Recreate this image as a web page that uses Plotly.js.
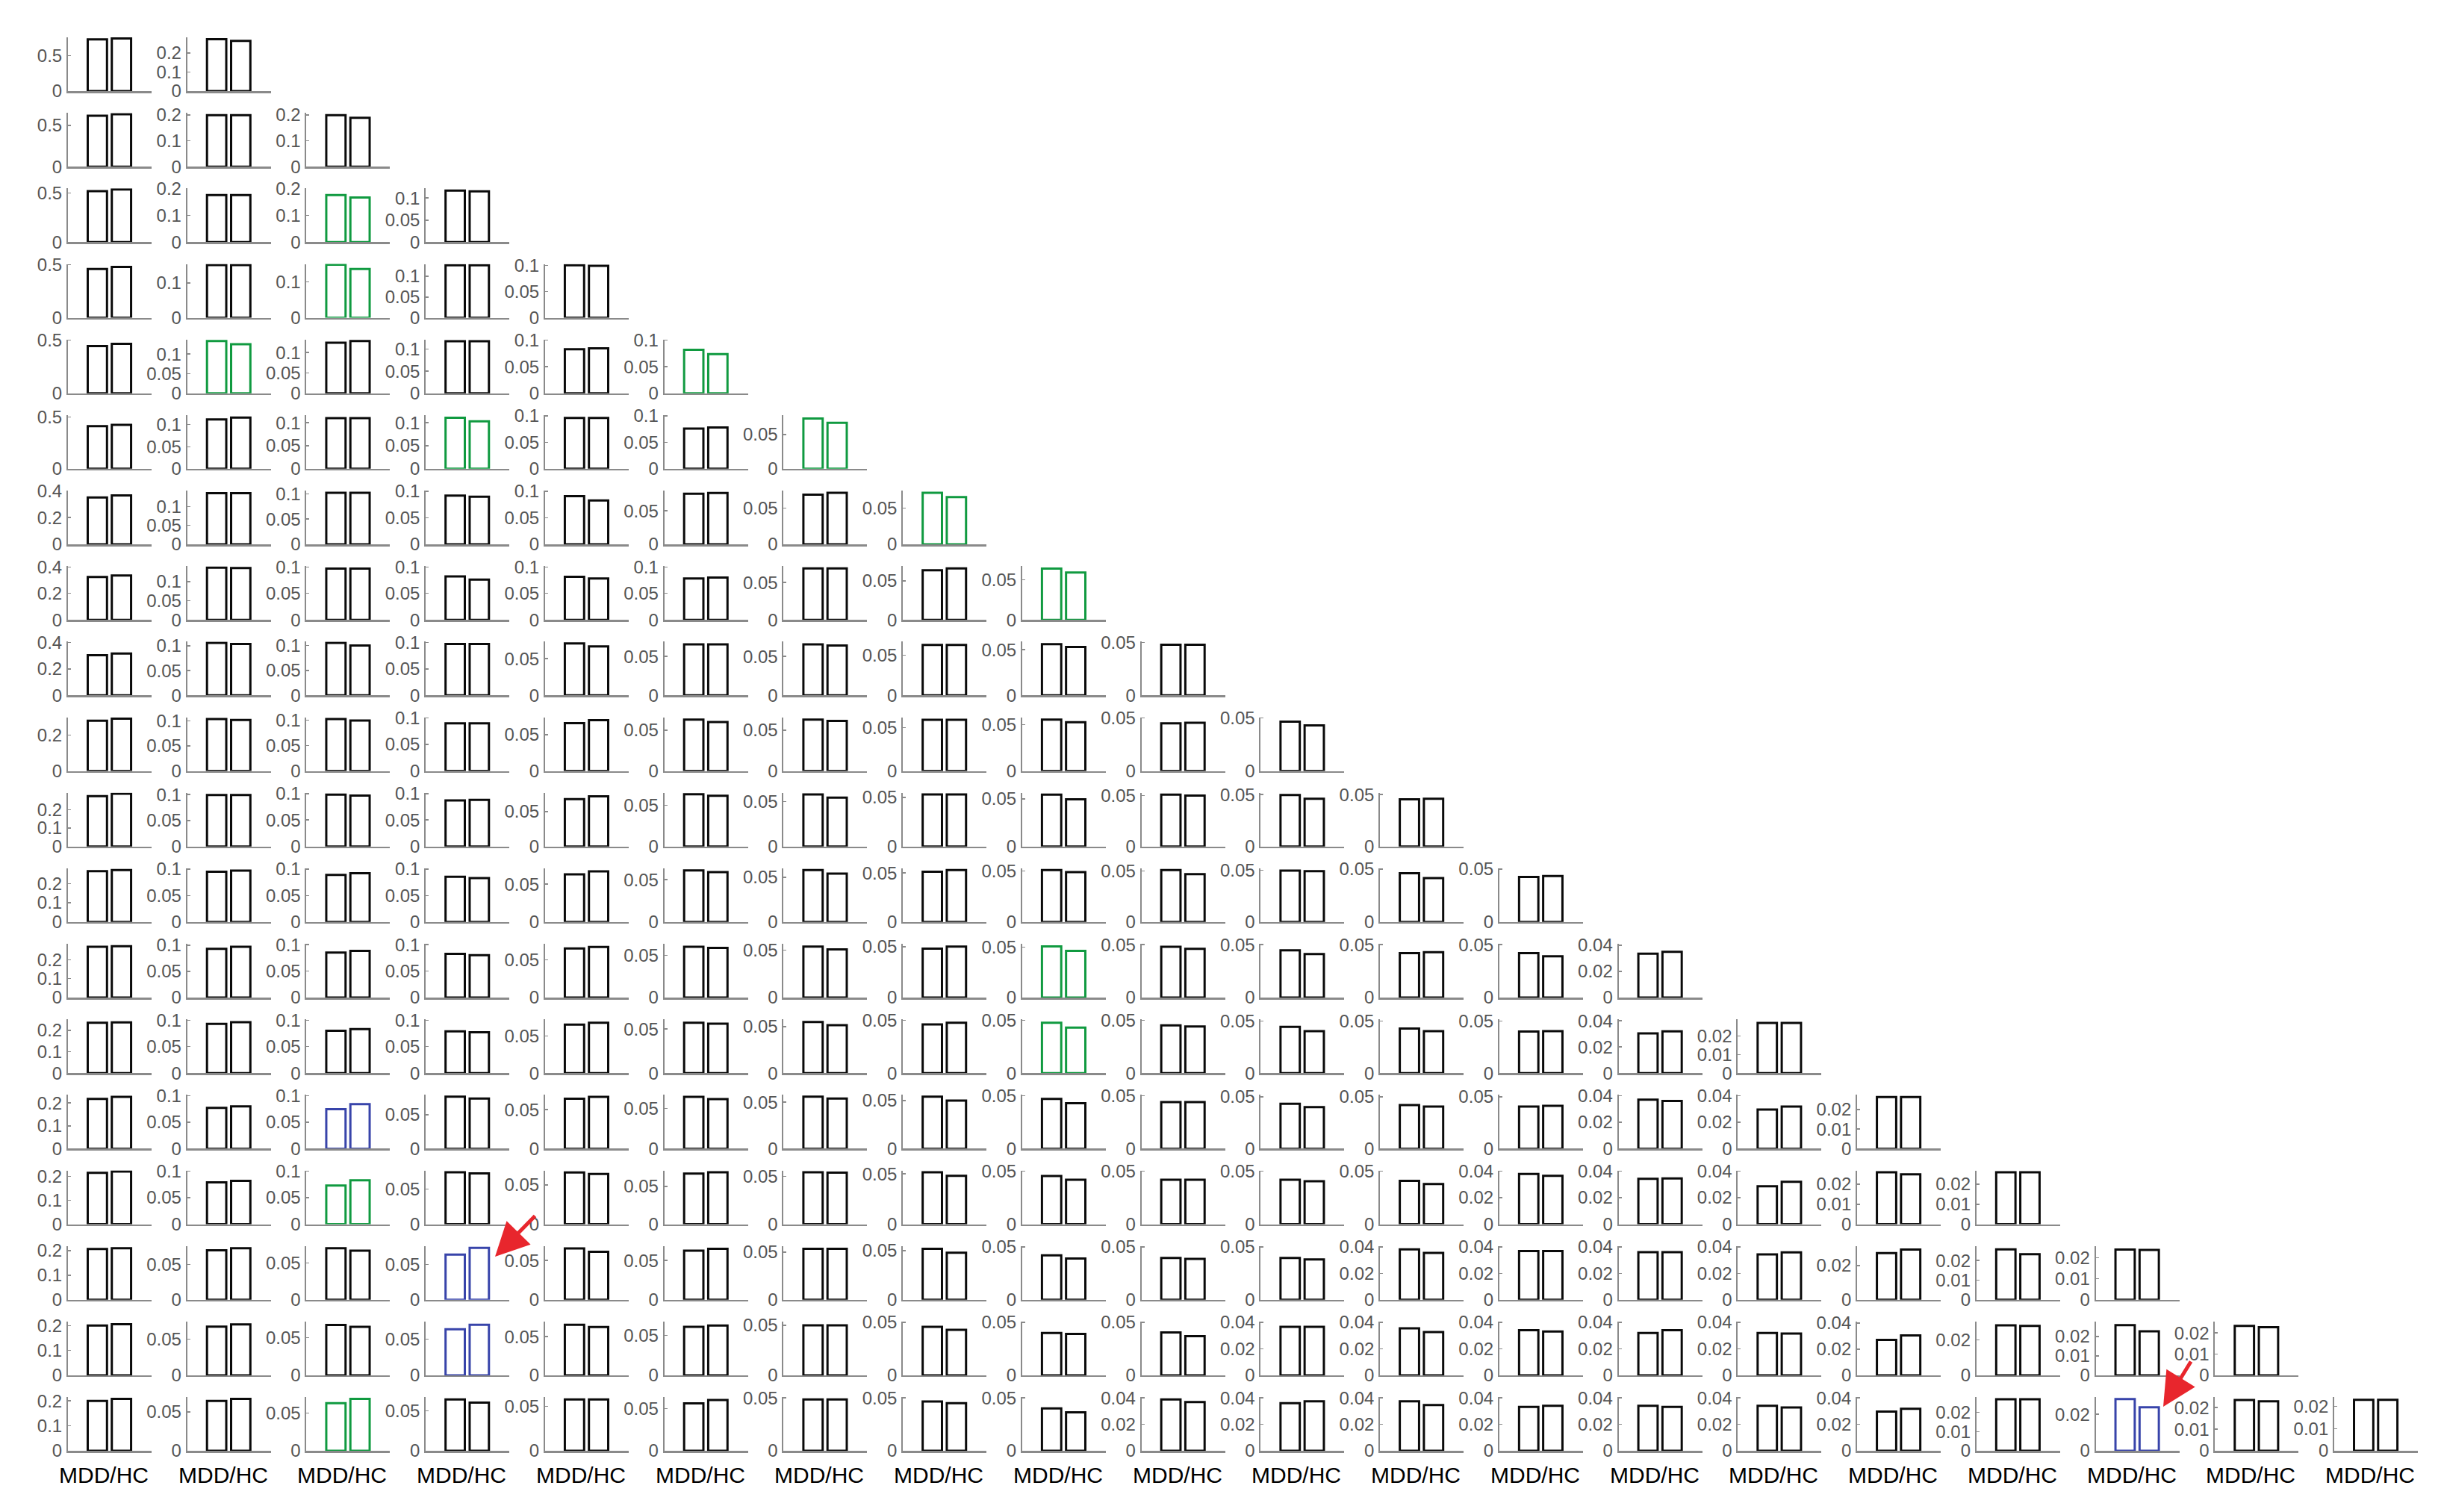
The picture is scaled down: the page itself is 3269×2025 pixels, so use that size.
<!DOCTYPE html>
<html>
<head>
<meta charset="utf-8">
<script src="https://cdn.plot.ly/plotly-3.0.1.min.js"></script>
<style>
html,body{margin:0;padding:0;background:#ffffff;}
#chart{width:3269px;height:2025px;}
</style>
</head>
<body>
<div id="chart"></div>
<script>
// ---------------- data ----------------
const groupLabels = ['MDD', 'HC'];
const xLabel = 'MDD/HC';

// row r holds panels for columns 0 .. r+1
const mddValues = [
  [0.733, 0.271],
  [0.614, 0.199, 0.199],
  [0.52, 0.176, 0.176, 0.117],
  [0.46, 0.151, 0.147, 0.127, 0.1],
  [0.445, 0.133, 0.124, 0.118, 0.083, 0.082],
  [0.41, 0.112, 0.11, 0.111, 0.096, 0.076, 0.073],
  [0.35, 0.135, 0.102, 0.092, 0.091, 0.0755, 0.0685, 0.071],
  [0.324, 0.136, 0.097, 0.082, 0.0815, 0.078, 0.069, 0.0637, 0.064],
  [0.304, 0.106, 0.105, 0.097, 0.0706, 0.0655, 0.0655, 0.063, 0.056, 0.0478],
  [0.279, 0.104, 0.102, 0.09, 0.066, 0.063, 0.063, 0.059, 0.0553, 0.045, 0.0465],
  [0.274, 0.099, 0.098, 0.087, 0.068, 0.063, 0.058, 0.053, 0.0544, 0.051, 0.0495, 0.0454],
  [0.264, 0.095, 0.089, 0.0855, 0.063, 0.061, 0.058, 0.0513, 0.051, 0.051, 0.0495, 0.046, 0.0425],
  [0.269, 0.093, 0.085, 0.0825, 0.065, 0.06, 0.054, 0.048, 0.051, 0.048, 0.0446, 0.042, 0.042, 0.0336],
  [0.235, 0.093, 0.08, 0.079, 0.065, 0.057, 0.055, 0.046, 0.0475, 0.045, 0.0446, 0.043, 0.04, 0.0304, 0.027],
  [0.218, 0.077, 0.0745, 0.0765, 0.064, 0.0645, 0.056, 0.054, 0.047, 0.044, 0.0433, 0.042, 0.0405, 0.037, 0.0296, 0.0263],
  [0.214, 0.079, 0.073, 0.0735, 0.066, 0.067, 0.0544, 0.0516, 0.0455, 0.042, 0.042, 0.041, 0.038, 0.0343, 0.0287, 0.026, 0.026],
  [0.207, 0.07, 0.07, 0.064, 0.0655, 0.0625, 0.0533, 0.052, 0.042, 0.0395, 0.0395, 0.038, 0.0368, 0.036, 0.0342, 0.0273, 0.0257, 0.024],
  [0.2, 0.067, 0.067, 0.0635, 0.0654, 0.061, 0.05, 0.0458, 0.04, 0.0405, 0.0366, 0.0354, 0.034, 0.032, 0.032, 0.027, 0.0283, 0.0258, 0.0233],
  [0.2, 0.064, 0.063, 0.064, 0.0577, 0.056, 0.0485, 0.0466, 0.04, 0.0388, 0.036, 0.0374, 0.0332, 0.034, 0.034, 0.0296, 0.0268, 0.0283, 0.0235, 0.0229]
];

const hcValues = [
  [0.745, 0.263],
  [0.634, 0.199, 0.189],
  [0.537, 0.176, 0.167, 0.115],
  [0.48, 0.151, 0.135, 0.127, 0.099],
  [0.467, 0.125, 0.128, 0.118, 0.085, 0.074],
  [0.423, 0.116, 0.11, 0.103, 0.096, 0.078, 0.067],
  [0.365, 0.135, 0.102, 0.09, 0.083, 0.0765, 0.071, 0.065],
  [0.335, 0.135, 0.097, 0.076, 0.078, 0.08, 0.069, 0.066, 0.059],
  [0.316, 0.104, 0.1, 0.097, 0.0666, 0.0655, 0.064, 0.063, 0.053, 0.0478],
  [0.29, 0.102, 0.099, 0.09, 0.07, 0.06, 0.0615, 0.059, 0.0524, 0.0455, 0.043],
  [0.287, 0.099, 0.096, 0.088, 0.072, 0.0614, 0.0545, 0.053, 0.0494, 0.05, 0.046, 0.046],
  [0.27, 0.097, 0.092, 0.083, 0.067, 0.059, 0.054, 0.053, 0.049, 0.047, 0.049, 0.0415, 0.0435],
  [0.272, 0.097, 0.088, 0.08, 0.067, 0.0587, 0.051, 0.05, 0.0465, 0.046, 0.041, 0.0428, 0.039, 0.035],
  [0.237, 0.096, 0.083, 0.077, 0.0675, 0.056, 0.0515, 0.0475, 0.043, 0.044, 0.0405, 0.0405, 0.0405, 0.032, 0.027],
  [0.227, 0.08, 0.084, 0.0737, 0.0666, 0.0617, 0.054, 0.05, 0.043, 0.044, 0.04, 0.0405, 0.0413, 0.036, 0.0318, 0.0263],
  [0.22, 0.082, 0.083, 0.072, 0.064, 0.0686, 0.054, 0.048, 0.042, 0.042, 0.0405, 0.038, 0.0365, 0.0346, 0.032, 0.025, 0.026],
  [0.21, 0.0728, 0.0667, 0.0735, 0.061, 0.065, 0.0533, 0.048, 0.039, 0.0385, 0.038, 0.0354, 0.0368, 0.036, 0.0358, 0.0294, 0.0232, 0.0238],
  [0.205, 0.07, 0.0645, 0.0697, 0.0623, 0.0627, 0.05, 0.043, 0.039, 0.037, 0.0366, 0.0326, 0.033, 0.034, 0.0315, 0.0305, 0.028, 0.0227, 0.0227],
  [0.208, 0.0667, 0.0686, 0.06, 0.0577, 0.06, 0.0485, 0.045, 0.0363, 0.0368, 0.0374, 0.0346, 0.034, 0.0332, 0.0328, 0.0317, 0.0268, 0.0238, 0.0229, 0.0229]
];

// upper y limit of each panel
const yLimits = [
  [0.75, 0.277],
  [0.64, 0.205, 0.205],
  [0.54, 0.195, 0.195, 0.12],
  [0.5, 0.152, 0.147, 0.128, 0.101],
  [0.5, 0.135, 0.13, 0.12, 0.1, 0.1],
  [0.51, 0.12, 0.115, 0.115, 0.1, 0.1, 0.077],
  [0.395, 0.14, 0.105, 0.1, 0.1, 0.079, 0.073, 0.073],
  [0.4, 0.138, 0.1, 0.1, 0.1, 0.1, 0.071, 0.068, 0.066],
  [0.4, 0.107, 0.106, 0.1, 0.072, 0.068, 0.068, 0.066, 0.058, 0.05],
  [0.294, 0.106, 0.104, 0.1, 0.073, 0.065, 0.065, 0.061, 0.057, 0.05, 0.05],
  [0.288, 0.102, 0.1, 0.1, 0.076, 0.064, 0.059, 0.054, 0.0555, 0.052, 0.051, 0.051],
  [0.275, 0.1, 0.1, 0.1, 0.07, 0.0625, 0.059, 0.054, 0.052, 0.052, 0.051, 0.05, 0.05],
  [0.28, 0.101, 0.1, 0.1, 0.07, 0.0625, 0.056, 0.052, 0.0527, 0.05, 0.05, 0.05, 0.05, 0.0405],
  [0.247, 0.1, 0.1, 0.1, 0.071, 0.06, 0.057, 0.05, 0.05, 0.05, 0.051, 0.051, 0.051, 0.0405, 0.0285],
  [0.232, 0.1, 0.1, 0.078, 0.068, 0.066, 0.057, 0.055, 0.05, 0.05, 0.051, 0.051, 0.051, 0.04, 0.04, 0.027],
  [0.221, 0.1, 0.1, 0.075, 0.0675, 0.07, 0.0555, 0.0526, 0.05, 0.05, 0.05, 0.05, 0.04, 0.04, 0.04, 0.0265, 0.0265],
  [0.216, 0.075, 0.072, 0.075, 0.0675, 0.0675, 0.0555, 0.054, 0.05, 0.05, 0.05, 0.04, 0.04, 0.04, 0.04, 0.031, 0.027, 0.0253],
  [0.213, 0.073, 0.0705, 0.073, 0.0685, 0.0667, 0.053, 0.05, 0.05, 0.05, 0.04, 0.04, 0.04, 0.04, 0.04, 0.0405, 0.03, 0.0273, 0.025],
  [0.212, 0.068, 0.07, 0.066, 0.0595, 0.0625, 0.05, 0.05, 0.05, 0.04, 0.04, 0.04, 0.04, 0.04, 0.04, 0.04, 0.0275, 0.029, 0.0245, 0.0238]
];

// tick label sets
const T_5   = [0, 0.5];
const T_12  = [0, 0.1, 0.2];
const T_1   = [0, 0.1];
const T_51  = [0, 0.05, 0.1];
const T_05  = [0, 0.05];
const T_24  = [0, 0.2, 0.4];
const T_2   = [0, 0.2];
const T_024 = [0, 0.02, 0.04];
const T_012 = [0, 0.01, 0.02];
const T_02  = [0, 0.02];

const yTicks = [
  [T_5, T_12],
  [T_5, T_12, T_12],
  [T_5, T_12, T_12, T_51],
  [T_5, T_1, T_1, T_51, T_51],
  [T_5, T_51, T_51, T_51, T_51, T_51],
  [T_5, T_51, T_51, T_51, T_51, T_51, T_05],
  [T_24, T_51, T_51, T_51, T_51, T_05, T_05, T_05],
  [T_24, T_51, T_51, T_51, T_51, T_51, T_05, T_05, T_05],
  [T_24, T_51, T_51, T_51, T_05, T_05, T_05, T_05, T_05, T_05],
  [T_2, T_51, T_51, T_51, T_05, T_05, T_05, T_05, T_05, T_05, T_05],
  [T_12, T_51, T_51, T_51, T_05, T_05, T_05, T_05, T_05, T_05, T_05, T_05],
  [T_12, T_51, T_51, T_51, T_05, T_05, T_05, T_05, T_05, T_05, T_05, T_05, T_05],
  [T_12, T_51, T_51, T_51, T_05, T_05, T_05, T_05, T_05, T_05, T_05, T_05, T_05, T_024],
  [T_12, T_51, T_51, T_51, T_05, T_05, T_05, T_05, T_05, T_05, T_05, T_05, T_05, T_024, T_012],
  [T_12, T_51, T_51, T_05, T_05, T_05, T_05, T_05, T_05, T_05, T_05, T_05, T_05, T_024, T_024, T_012],
  [T_12, T_51, T_51, T_05, T_05, T_05, T_05, T_05, T_05, T_05, T_05, T_05, T_024, T_024, T_024, T_012, T_012],
  [T_12, T_05, T_05, T_05, T_05, T_05, T_05, T_05, T_05, T_05, T_05, T_024, T_024, T_024, T_024, T_02, T_012, T_012],
  [T_12, T_05, T_05, T_05, T_05, T_05, T_05, T_05, T_05, T_05, T_024, T_024, T_024, T_024, T_024, T_024, T_02, T_012, T_012],
  [T_12, T_05, T_05, T_05, T_05, T_05, T_05, T_05, T_05, T_024, T_024, T_024, T_024, T_024, T_024, T_024, T_012, T_02, T_012, T_012]
];

// highlighted panels [row, column]
const greenCells = [[2,2],[3,2],[4,1],[4,5],[5,3],[5,6],[6,7],[7,8],[12,8],[13,8],[15,2],[18,2]];
const blueCells  = [[14,2],[16,3],[17,3],[18,17]];

// ---------------- drawing ----------------
const W = 3269, H = 2025;
const AX_X0 = 91, AX_DX = 159.74, AX_W = 112;
const AX_Y0 = 122, AX_DY = 101.17, AX_H = 72;
const GREEN = '#109a40', BLUE = '#3844aa', BLACK = '#0a0a0a', RED = '#e8262d';
const AXIS_GREY = '#8a8a8a', TICK_TEXT = '#555555';
const FONT = 'Liberation Sans, Arial, Helvetica, sans-serif';

function inList(list, r, c) { return list.some(p => p[0] === r && p[1] === c); }

const traces = [];
const layout = {
  width: W, height: H,
  margin: {l: 0, r: 0, t: 0, b: 0},
  paper_bgcolor: '#ffffff', plot_bgcolor: 'rgba(0,0,0,0)',
  showlegend: false,
  font: {family: FONT},
  annotations: []
};

let n = 0;
for (let r = 0; r < mddValues.length; r++) {
  for (let c = 0; c < mddValues[r].length; c++) {
    n++;
    const id = n === 1 ? '' : String(n);
    const color = inList(greenCells, r, c) ? GREEN : (inList(blueCells, r, c) ? BLUE : BLACK);
    traces.push({
      type: 'bar',
      x: [1, 2],
      y: [mddValues[r][c], hcValues[r][c]],
      text: groupLabels,
      textposition: 'none',
      xaxis: 'x' + id, yaxis: 'y' + id,
      width: 0.8,
      marker: {color: '#ffffff', line: {color: color, width: 3}},
      hoverinfo: 'skip', showlegend: false
    });
    const left = AX_X0 + AX_DX * c;
    const base = AX_Y0 + AX_DY * r;
    const ticks = yTicks[r][c];
    const topTick = Math.max.apply(null, ticks);
    const yTop = Math.max(yLimits[r][c] * 1.015, topTick * 1.004);
    layout['xaxis' + id] = {
      domain: [left / W, (left + AX_W) / W],
      anchor: 'y' + id,
      range: [-0.22, 3.25],
      showgrid: false, zeroline: false,
      showline: true, linecolor: AXIS_GREY, linewidth: 2.6,
      ticks: '', showticklabels: false, fixedrange: true
    };
    layout['yaxis' + id] = {
      domain: [(H - base) / H, (H - base + AX_H) / H],
      anchor: 'x' + id,
      range: [0, yTop],
      showgrid: false, zeroline: false,
      showline: true, linecolor: AXIS_GREY, linewidth: 2,
      tickmode: 'array', tickvals: ticks, ticktext: ticks.map(v => String(v)),
      ticks: 'inside', ticklen: 4, tickwidth: 1.5, tickcolor: AXIS_GREY,
      ticklabelstandoff: 1,
      tickfont: {family: FONT, size: 24, color: TICK_TEXT},
      fixedrange: true
    };
  }
}

// MDD/HC labels under the bottom row
const lastRow = mddValues.length - 1;
for (let c = 0; c < mddValues[lastRow].length; c++) {
  layout.annotations.push({
    xref: 'paper', yref: 'paper',
    x: (AX_X0 + AX_DX * c + 48) / W,
    y: 1 - 1975 / H,
    text: xLabel, showarrow: false,
    xanchor: 'center', yanchor: 'middle',
    font: {family: FONT, size: 30, color: '#000000'}
  });
}

// red arrows
layout.annotations.push({
  xref: 'paper', yref: 'paper', x: 663 / W, y: 1 - 1683 / H,
  ax: 55, ay: -56, axref: 'pixel', ayref: 'pixel',
  text: '', showarrow: true, arrowhead: 2, arrowsize: 1.8, arrowwidth: 5,
  arrowcolor: RED, standoff: 0
});
layout.annotations.push({
  xref: 'paper', yref: 'paper', x: 2897 / W, y: 1 - 1884 / H,
  ax: 38, ay: -62, axref: 'pixel', ayref: 'pixel',
  text: '', showarrow: true, arrowhead: 2, arrowsize: 1.8, arrowwidth: 5,
  arrowcolor: RED, standoff: 0
});

Plotly.newPlot('chart', traces, layout, {staticPlot: true, displayModeBar: false});
</script>
</body>
</html>
